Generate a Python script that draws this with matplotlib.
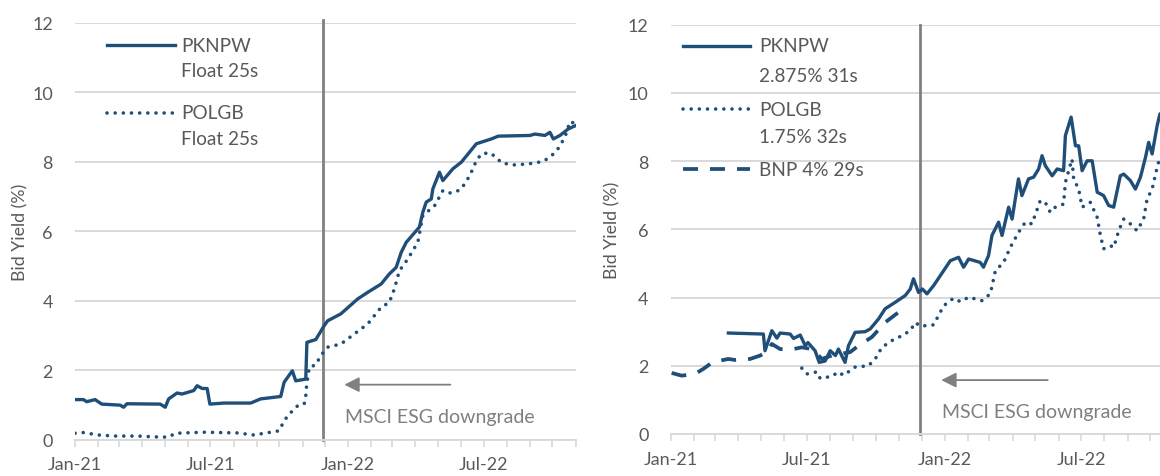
import pandas as pd
import matplotlib
matplotlib.use("Agg")
import matplotlib.pyplot as plt
import matplotlib.dates as mdates

plt.rcParams['font.family'] = ['Lato', 'DejaVu Sans']

# x values are months since 1 Jan 2021
left_pkn_m = [0, 0.37, 0.51, 0.88, 1.17, 1.98, 2.13, 2.28, 3.74, 3.96, 4.11, 4.48, 4.7, 5.21, 5.36, 5.58, 5.8, 5.92,
              6.53, 7.71, 8.15, 9.03, 9.18, 9.54, 9.69, 10.13, 10.18, 10.57, 10.94, 11.09, 11.67, 12.41, 12.85, 13.44,
              13.8, 14.1, 14.32, 14.54, 15.12, 15.27, 15.42, 15.64, 15.71, 16.0, 16.15, 16.59, 16.96, 17.62, 18.28,
              18.58, 19.97, 20.19, 20.63, 20.85, 21.0, 21.29, 21.66, 22.0]
left_pkn_v = [1.15, 1.15, 1.09, 1.15, 1.02, 0.99, 0.93, 1.03, 1.02, 0.93, 1.17, 1.34, 1.31, 1.41, 1.55, 1.47, 1.47, 1.02,
              1.05, 1.05, 1.17, 1.24, 1.65, 1.98, 1.69, 1.74, 2.80, 2.88, 3.28, 3.42, 3.62, 4.05, 4.24, 4.48,
              4.77, 4.96, 5.39, 5.68, 6.12, 6.55, 6.84, 6.93, 7.22, 7.70, 7.46, 7.80, 7.99, 8.52, 8.66,
              8.74, 8.76, 8.80, 8.76, 8.85, 8.66, 8.76, 8.95, 9.05]

left_pol_m = [0, 0.37, 1.03, 1.69, 2.72, 3.74, 4.11, 4.4, 5.65, 7.12, 7.85, 8.59, 8.96, 9.18, 9.4, 9.77, 10.06, 10.13,
              10.16, 10.28, 10.57, 10.79, 11.09, 11.67, 12.26, 12.85, 13.44, 13.8, 14.02, 14.24, 14.61, 15.05, 15.27,
              15.79, 16.15, 16.4, 16.67, 16.96, 17.33, 17.62, 17.84, 18.21, 18.5, 18.72, 19.24, 19.9, 20.56, 20.93,
              21.22, 21.51, 21.73, 22.0]
left_pol_v = [0.18, 0.2, 0.13, 0.10, 0.10, 0.07, 0.07, 0.18, 0.21, 0.19, 0.13, 0.21, 0.25, 0.54, 0.73, 0.97, 1.02, 1.26,
              1.50, 2.08, 2.15, 2.42, 2.66, 2.75, 3.04, 3.33, 3.81, 3.95, 4.34, 4.86, 5.20, 5.68, 6.45,
              6.74, 7.17, 7.10, 7.12, 7.22, 7.60, 8.03, 8.23, 8.26, 8.13, 7.97, 7.91, 7.94, 8.01, 8.18,
              8.39, 8.71, 9.16, 9.09]

right_pkn_m = [2.52, 4.05, 4.12, 4.42, 4.64, 4.78, 5.22, 5.37, 5.66, 5.88, 6.0, 6.31, 6.49, 6.75, 6.97, 7.2, 7.33,
               7.62, 7.77, 8.06, 8.5, 8.72, 9.08, 9.37, 9.81, 10.25, 10.47, 10.61, 10.83, 11.0, 11.2, 11.49, 11.78,
               12.22, 12.58, 12.8, 13.02, 13.53, 13.67, 13.89, 14.04, 14.33, 14.48, 14.77, 14.92, 15.2, 15.35,
               15.64, 15.86, 16.08, 16.23, 16.37, 16.67, 16.89, 17.17, 17.25, 17.5, 17.69, 17.83, 17.98, 18.2,
               18.42, 18.64, 18.92, 19.14, 19.36, 19.65, 19.8, 20.09, 20.31, 20.53, 20.75, 20.89, 21.04, 21.26,
               21.38, 21.6]
right_pkn_v = [2.96, 2.93, 2.44, 3.03, 2.81, 2.96, 2.93, 2.80, 2.90, 2.59, 2.68, 2.44, 2.10, 2.14, 2.44, 2.30, 2.49,
               2.10, 2.59, 2.98, 3.00, 3.08, 3.37, 3.67, 3.86, 4.06, 4.25, 4.55, 4.15, 4.25, 4.11, 4.35, 4.64,
               5.08, 5.18, 4.89, 5.13, 5.03, 4.89, 5.23, 5.82, 6.21, 5.82, 6.65, 6.30, 7.48, 6.99,
               7.48, 7.53, 7.77, 8.16, 7.87, 7.57, 7.77, 7.72, 8.75, 9.29, 8.45, 8.45, 7.72, 8.01,
               8.01, 7.09, 6.99, 6.70, 6.65, 7.57, 7.62, 7.43, 7.18, 7.53, 8.11, 8.55, 8.21, 9.04,
               9.38, 9.5]

right_pol_m = [5.73, 5.95, 6.39, 6.53, 7.04, 7.33, 7.55, 8.06, 8.64, 8.94, 9.23, 9.67, 10.1, 10.47, 10.69, 10.91,
               11.49, 11.93, 12.36, 12.66, 13.02, 13.6, 13.97, 14.19, 14.55, 14.84, 15.2, 15.5, 15.79, 16.15, 16.37,
               16.59, 16.81, 17.17, 17.25, 17.54, 17.61, 17.83, 17.98, 18.34, 18.64, 18.78, 18.92, 19.22, 19.36,
               19.58, 19.8, 20.09, 20.38, 20.67, 20.82, 21.04, 21.26, 21.38, 21.6]
right_pol_v = [1.93, 1.76, 1.82, 1.63, 1.69, 1.82, 1.72, 1.96, 2.00, 2.20, 2.54, 2.74, 2.88, 3.03, 3.27, 3.16,
               3.20, 3.76, 3.98, 3.88, 4.01, 3.91, 4.11, 4.79, 5.03, 5.47, 5.91, 6.21, 6.16, 6.84, 6.79,
               6.50, 6.65, 6.74, 7.38, 8.06, 7.48, 7.18, 6.65, 6.79, 6.35, 5.82, 5.43, 5.52, 5.47,
               5.96, 6.30, 6.16, 5.96, 6.30, 6.89, 7.18, 7.82, 8.11, 8.3]

right_bnp_m = [0.04, 0.48, 1.06, 1.43, 1.86, 2.08, 2.52, 2.81, 3.47, 3.91, 4.2, 4.42, 4.78, 5.22, 5.73, 6.17, 6.61,
               7.04, 7.84, 8.21, 8.79, 9.37, 9.96, 10.3]
right_bnp_v = [1.79, 1.71, 1.76, 1.91, 2.12, 2.14, 2.20, 2.17, 2.20, 2.30, 2.40, 2.64, 2.49, 2.47, 2.54, 2.49, 2.20,
               2.30, 2.40, 2.59, 2.84, 3.27, 3.57, 3.75]

left_labels = ["PKNPW\nFloat 25s", "POLGB\nFloat 25s"]
right_labels = ["PKNPW\n2.875% 31s", "POLGB\n1.75% 32s", "BNP 4% 29s"]
downgrade_m = 10.9
annot_text = "MSCI ESG downgrade"

START = pd.Timestamp("2021-01-01")
END = pd.Timestamp("2022-11-01")
BLUE = "#1f4e79"
GRID = "#d9d9d9"
TXT = "#595959"

solid = dict(color=BLUE, lw=2.4, solid_joinstyle='round')
dotted = dict(color=BLUE, lw=2.6, linestyle=(0, (0.01, 2.25)), dash_capstyle='round')
dashed = dict(color=BLUE, lw=2.7, linestyle=(0, (4.0, 3.2)), dash_capstyle='butt')


def to_dates(months):
    return [START + pd.Timedelta(days=m * 30.44) for m in months]


def style_axis(ax):
    ax.set_xlim(START, END)
    ax.set_ylim(0, 12)
    ax.set_yticks(range(0, 13, 2))
    ax.grid(axis='y', color=GRID, lw=1.4)
    ax.set_axisbelow(True)
    for s in ['left', 'right', 'top']:
        ax.spines[s].set_visible(False)
    ax.spines['bottom'].set_color(GRID)
    ax.spines['bottom'].set_linewidth(1.4)
    ax.xaxis.set_major_locator(mdates.MonthLocator(bymonth=[1, 7]))
    ax.xaxis.set_minor_locator(mdates.MonthLocator())
    ax.xaxis.set_major_formatter(mdates.DateFormatter('%b-%y'))
    ax.tick_params(axis='x', which='both', direction='out', length=5, width=1.2, color=GRID,
                   labelsize=13, labelcolor=TXT, pad=7)
    ax.tick_params(axis='y', length=0, labelsize=13, labelcolor=TXT, pad=16)
    ax.set_ylabel("Bid Yield (%)", fontsize=12.8, color=TXT)


def downgrade(ax, top):
    d = to_dates([downgrade_m])[0]
    ax.axvline(d, ymin=0, ymax=top, color="#808080", lw=2, clip_on=False, zorder=1)
    tail, head = to_dates([16.6, 11.7])
    ax.annotate("", xy=(head, 1.58), xytext=(tail, 1.58),
                arrowprops=dict(arrowstyle='-|>,head_length=0.9,head_width=0.45', color="#808080", lw=1.3))
    ax.text(to_dates([11.85])[0], 0.65, annot_text, color="#7f7f7f", fontsize=14, va='center', ha='left')


def legend(ax, entries, x0, x1, xt):
    for style, rows in entries:
        ax.plot([x0, x1], [rows[0][1], rows[0][1]], transform=ax.transAxes, clip_on=False, **style)
        for txt, y in rows:
            ax.text(xt, y, txt, transform=ax.transAxes, fontsize=13.7, color=TXT, va='center', ha='left')


fig = plt.figure(figsize=(11.6, 4.77), dpi=100)

ax1 = fig.add_axes([0.0647, 0.0765, 0.4315, 0.8732])
style_axis(ax1)
ax1.yaxis.set_label_coords(-0.094, 0.5)
ax1.plot(to_dates(left_pkn_m), left_pkn_v, **solid)
ax1.plot(to_dates(left_pol_m), left_pol_v, **dotted)
downgrade(ax1, 1.007)
l1, l2 = [s.split("\n") for s in left_labels]
legend(ax1, [(solid, [(l1[0], 0.947), (l1[1], 0.885)]),
             (dotted, [(l2[0], 0.784), (l2[1], 0.722)])], 0.064, 0.200, 0.212)

ax2 = fig.add_axes([0.5782, 0.0881, 0.4335, 0.858])
style_axis(ax2)
ax2.yaxis.set_label_coords(-0.1, 0.5)
ax2.plot(to_dates(right_pkn_m), right_pkn_v, **solid)
ax2.plot(to_dates(right_pol_m), right_pol_v, **dotted)
ax2.plot(to_dates(right_bnp_m), right_bnp_v, **dashed)
downgrade(ax2, 1.0)
r1, r2 = [s.split("\n") for s in right_labels[:2]]
legend(ax2, [(solid, [(r1[0], 0.948), (r1[1], 0.877)]),
             (dotted, [(r2[0], 0.794), (r2[1], 0.726)]),
             (dashed, [(right_labels[2], 0.647)])], 0.0245, 0.158, 0.176)

fig.savefig("out.png", dpi=100)
